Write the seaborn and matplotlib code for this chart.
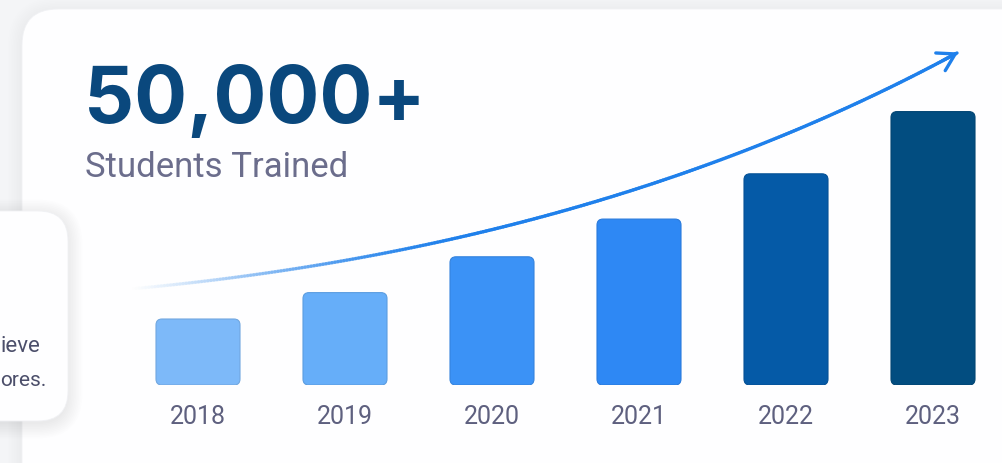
import numpy as np
import matplotlib
matplotlib.use("Agg")
import matplotlib.pyplot as plt
import seaborn as sns
from matplotlib.patches import FancyBboxPatch, FancyArrowPatch
from matplotlib.collections import LineCollection
from matplotlib.colors import to_rgb

# ---- data ----
years = ["2018", "2019", "2020", "2021", "2022", "2023"]
students_k = [3.5, 4.9, 6.8, 8.8, 11.2, 14.5]
bar_colors = ["#7DB9F9", "#66AEF9", "#3B92F6", "#2E88F4", "#055AA7", "#024D80"]
headline = "50,000+"
subtitle = "Students Trained"
side_lines = ["ieve", "ores."]

sns.set_theme(style="white")
plt.rcParams["font.family"] = ["Roboto", "DejaVu Sans"]

W, H = 1003, 464
fig = plt.figure(figsize=(W / 100, H / 100), dpi=100, facecolor="#F4F5F7")

# background / decoration axes in pixel coordinates
bg = fig.add_axes([0, 0, 1, 1])
bg.set_xlim(0, W)
bg.set_ylim(H, 0)
bg.axis("off")


def card(x, y, w, h, r, z, a):
    for i in range(10):
        pad = i * 1.6
        bg.add_patch(FancyBboxPatch((x - pad, y - pad + 3), w + 2 * pad, h + 2 * pad,
                                    boxstyle=f"round,pad=0,rounding_size={r + pad}",
                                    fc="black", ec="none", alpha=a, zorder=z))
    bg.add_patch(FancyBboxPatch((x, y), w, h, boxstyle=f"round,pad=0,rounding_size={r}",
                                fc="#FEFEFF", ec="#F0F1F4", lw=0.6, zorder=z + 0.5))


card(22, 10, 1150, 700, 36, 1, 0.0035)
card(-90, 212, 158, 210, 30, 3, 0.006)

bg.text(1, 352, side_lines[0], ha="left", va="baseline", fontsize=16,
        color="#4B4E6A", zorder=5)
bg.text(0, 386, side_lines[1], ha="left", va="baseline", fontsize=15,
        color="#4B4E6A", zorder=5)

bg.text(84, 123, headline, ha="left", va="baseline", fontsize=56.5,
        fontweight="bold", color="#0A487D", zorder=5, family=["Inter", "DejaVu Sans"])
bg.text(85, 177, subtitle, ha="left", va="baseline", fontsize=25,
        color="#6B6D8C", zorder=5)

# trend arrow (decorative quadratic curve)
P0 = np.array([130.0, 290.0])
P1 = np.array([600.0, 247.0])
P2 = np.array([957.0, 54.0])
t = np.linspace(0, 1, 300)[:, None]
pts = (1 - t) ** 2 * P0 + 2 * (1 - t) * t * P1 + t ** 2 * P2
segs = np.stack([pts[:-1], pts[1:]], axis=1)
tm = t[:-1, 0]
alpha = np.clip(tm / 0.38, 0, 1) ** 1.2
base = np.array(to_rgb("#1F80EB"))
cols = np.column_stack([np.tile(base, (len(tm), 1)), alpha])
bg.add_collection(LineCollection(segs, colors=cols, linewidths=2.4,
                                 capstyle="round", zorder=6))
bg.add_patch(FancyArrowPatch(pts[-8], P2 + (P2 - P1) / np.linalg.norm(P2 - P1) * 4,
                             arrowstyle="->,head_length=0.75,head_width=0.45",
                             mutation_scale=16, color="#1F80EB", lw=2.4,
                             zorder=6))

# ---- bars ----
ax = fig.add_axes([124.5 / W, 78 / H, 882 / W, 346 / H])
ax.patch.set_alpha(0)
ax.set_zorder(2)
sns.barplot(x=years, y=students_k, hue=years, palette=bar_colors, legend=False,
            width=84 / 147, saturation=1, ax=ax)
ax.set_xlim(-0.5, 5.5)
ax.set_ylim(0, 18.35)

o = ax.transData.transform((0, 0))
ppx = ax.transData.transform((1, 0))[0] - o[0]
ppy = ax.transData.transform((0, 1))[1] - o[1]
for p in list(ax.patches):
    x0, w, h = p.get_x(), p.get_width(), p.get_height()
    fc = p.get_facecolor()
    p.remove()
    ec = tuple(np.array(fc[:3]) * 0.9)
    ax.add_patch(FancyBboxPatch((x0, 0), w, h,
                                boxstyle=f"round,pad=0,rounding_size={6 / ppx}",
                                mutation_aspect=ppx / ppy, fc=fc, ec=ec, lw=0.8))

sns.despine(ax=ax, left=True, bottom=True)
ax.set_yticks([])
ax.set_xlabel("")
ax.set_ylabel("")
ax.tick_params(axis="x", length=0, pad=14, labelsize=18, labelcolor="#5E607F")

fig.savefig("out.png", dpi=100, facecolor=fig.get_facecolor())
